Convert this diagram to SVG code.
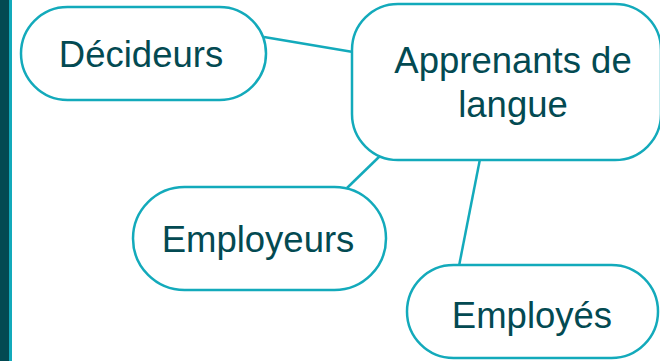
<svg xmlns="http://www.w3.org/2000/svg" width="660" height="361" viewBox="0 0 660 361">
<style>
.node{fill:#ffffff;stroke:#13aabb;stroke-width:2.5}
.edge{stroke:#13aabb;stroke-width:2.5;fill:none}
.lbl{font-family:"Liberation Sans",Arial,sans-serif;font-size:36.5px;fill:#034a52;text-anchor:middle}
</style>
<rect x="0" y="0" width="660" height="361" fill="#ffffff"/>
<rect x="0" y="0" width="9" height="361" fill="#034a52"/>
<rect x="9" y="0" width="3" height="361" fill="#13aabb"/>
<g id="connectors">
<line class="edge" x1="264" y1="37" x2="353" y2="52"/>
<line class="edge" x1="381" y1="155" x2="347" y2="188"/>
<line class="edge" x1="480" y1="159" x2="459" y2="266"/>
</g>
<g id="decideurs">
<rect class="node" x="21" y="7" width="245" height="93" rx="46.5"/>
<text class="lbl" x="141" y="67">Décideurs</text>
</g>
<g id="apprenants">
<rect class="node" x="352" y="4" width="309" height="156" rx="46"/>
<text class="lbl" x="513" y="73">Apprenants de</text>
<text class="lbl" x="513" y="117">langue</text>
</g>
<g id="employeurs">
<rect class="node" x="133" y="187" width="253" height="103" rx="51.5"/>
<text class="lbl" x="258" y="252">Employeurs</text>
</g>
<g id="employes">
<rect class="node" x="407" y="265" width="251" height="93" rx="46.5"/>
<text class="lbl" x="532" y="328">Employés</text>
</g>
</svg>
